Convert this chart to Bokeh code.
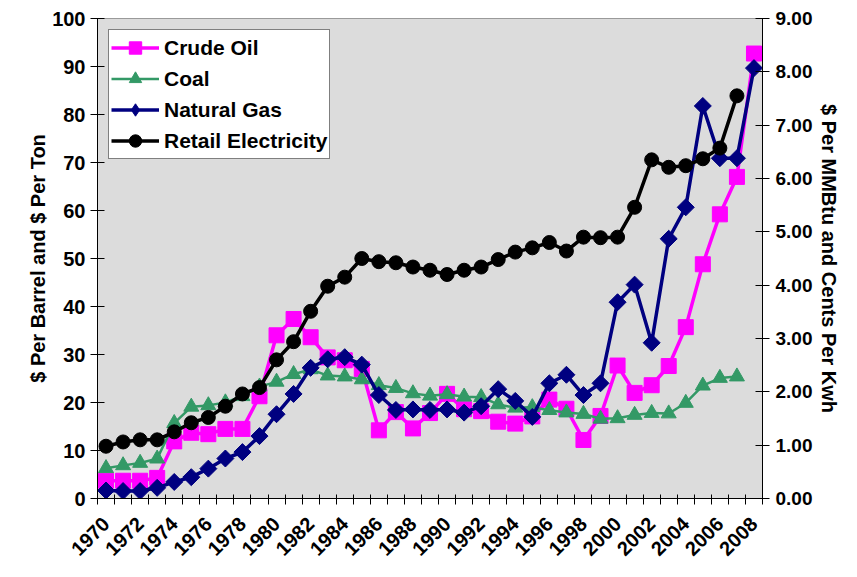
import math
from bokeh.plotting import figure
from bokeh.models import (Range1d, LinearAxis, FixedTicker, NumeralTickFormatter,
                          Legend, LegendItem)
from bokeh.embed import file_html
from bokeh.resources import INLINE

NaN = float("nan")

years = list(range(1970, 2009))

crude_oil = [3.7, 3.7, 3.7, 4.3, 11.9, 13.7, 13.4, 14.5, 14.5, 21.3,
             34.0, 37.4, 33.6, 29.4, 28.8, 27.0, 14.2, 18.0, 14.6, 17.8,
             21.8, 18.6, 18.2, 16.0, 15.6, 17.1, 20.6, 18.7, 12.2, 17.2,
             27.7, 22.0, 23.6, 27.6, 35.7, 48.8, 59.2, 67.0, 92.7]

coal = [6.3, 6.9, 7.4, 8.3, 15.7, 19.1, 19.4, 20.0, 21.3, 23.3,
        24.3, 25.9, 26.9, 25.6, 25.4, 24.8, 23.6, 23.0, 21.9, 21.4,
        21.7, 21.2, 21.1, 19.6, 18.9, 19.0, 18.4, 17.9, 17.6, 16.6,
        16.7, 17.4, 17.8, 17.7, 19.9, 23.5, 25.1, 25.4, NaN]

natural_gas = [0.15, 0.14, 0.14, 0.20, 0.31, 0.40, 0.56, 0.75, 0.87, 1.17,
               1.58, 1.96, 2.45, 2.61, 2.65, 2.51, 1.94, 1.66, 1.67, 1.66,
               1.67, 1.61, 1.73, 2.05, 1.83, 1.53, 2.16, 2.32, 1.94, 2.16,
               3.68, 4.01, 2.92, 4.87, 5.46, 7.36, 6.38, 6.38, 8.07]

retail_electricity = [0.98, 1.06, 1.10, 1.10, 1.25, 1.42, 1.52, 1.73, 1.96, 2.08,
                      2.60, 2.94, 3.51, 3.98, 4.15, 4.50, 4.44, 4.42, 4.34, 4.28,
                      4.20, 4.28, 4.34, 4.48, 4.62, 4.70, 4.80, 4.64, 4.90, 4.89,
                      4.90, 5.46, 6.35, 6.21, 6.24, 6.37, 6.57, 7.55, NaN]

left_ticks = list(range(0, 101, 10))
right_ticks = list(range(0, 10))
label_years = years[::2]

x = list(range(len(years)))

FONT = "Liberation Sans"

p = figure(frame_width=665, frame_height=480,
           min_border_left=97, min_border_right=79,
           min_border_top=18, min_border_bottom=63,
           x_range=Range1d(-0.5, len(years) - 0.5),
           y_range=Range1d(0, 100),
           output_backend="svg", toolbar_location=None)
p.extra_y_ranges = {"right": Range1d(0, 9)}

p.background_fill_color = "#DCDCDC"
p.border_fill_color = "white"
p.outline_line_color = "#9A9A9A"
p.grid.visible = False

# x axis
xa = p.xaxis[0]
xa.ticker = FixedTicker(ticks=[years.index(y) for y in label_years],
                        minor_ticks=[i - 0.5 for i in range(len(years) + 1)])
xa.major_label_overrides = {years.index(y): str(y) for y in label_years}
xa.major_label_orientation = math.pi / 4
xa.major_tick_in = 0
xa.major_tick_out = 0
xa.minor_tick_in = 4
xa.minor_tick_out = 6
xa.minor_tick_line_color = "black"
xa.major_label_standoff = 16

# left axis
ya = p.yaxis[0]
ya.ticker = FixedTicker(ticks=left_ticks)
ya.axis_label = "$ Per Barrel and $ Per Ton"
ya.major_tick_in = 7
ya.major_tick_out = 7
ya.minor_tick_line_color = None
ya.major_label_standoff = 5
ya.axis_label_standoff = 0

ra = LinearAxis(y_range_name="right", ticker=FixedTicker(ticks=right_ticks),
                formatter=NumeralTickFormatter(format="0.00"),
                axis_label="$ Per MMBtu and Cents Per Kwh")
ra.major_tick_in = 7
ra.major_tick_out = 7
ra.minor_tick_line_color = None
ra.major_label_standoff = 6
ra.axis_label_standoff = 3
p.add_layout(ra, "right")

for ax in [xa, ya, ra]:
    ax.major_label_text_font = FONT
    ax.major_label_text_font_style = "bold"
    ax.major_label_text_font_size = "20px"
    ax.major_label_text_color = "black"
    ax.axis_label_text_font = FONT
    ax.axis_label_text_font_style = "bold"
    ax.axis_label_text_font_size = "20px"
    ax.axis_label_text_color = "black"
    ax.axis_line_color = "black"
ra.major_label_text_font_size = "19px"
ya.major_tick_line_color = "black"
ra.major_tick_line_color = "black"
xa.major_tick_line_color = None

# series
c1 = "#FF00FF"
c2 = "#339966"
c3 = "#000080"
c4 = "#000000"

l1 = p.line(x, crude_oil, line_color=c1, line_width=3.5)
s1 = p.scatter(x, crude_oil, marker="square", size=15, fill_color=c1, line_color=c1)

l2 = p.line(x, coal, line_color=c2, line_width=2.5)
s2 = p.scatter(x, coal, marker="triangle", size=15, fill_color=c2, line_color=c2)

l3 = p.line(x, natural_gas, line_color=c3, line_width=3.5, y_range_name="right")
s3 = p.scatter(x, natural_gas, marker="square", angle=math.pi / 4, size=12,
               fill_color=c3, line_color=c3, y_range_name="right")
# legend-only glyph (no data) so the legend shows a diamond
d3 = p.scatter([NaN], [NaN], marker="diamond", size=19,
               fill_color=c3, line_color=c3, y_range_name="right")

l4 = p.line(x, retail_electricity, line_color=c4, line_width=3.5, y_range_name="right")
s4 = p.scatter(x, retail_electricity, marker="circle", size=14,
               fill_color=c4, line_color=c4, y_range_name="right")

legend = Legend(items=[
    LegendItem(label="Crude Oil", renderers=[l1, s1]),
    LegendItem(label="Coal", renderers=[l2, s2]),
    LegendItem(label="Natural Gas", renderers=[l3, d3]),
    LegendItem(label="Retail Electricity", renderers=[l4, s4]),
], location="top_left")
legend.margin = 11
legend.padding = 2
legend.spacing = 0
legend.label_height = 31
legend.glyph_height = 31
legend.glyph_width = 48
legend.label_standoff = 5
legend.label_text_font = FONT
legend.label_text_font_style = "bold"
legend.label_text_font_size = "21px"
legend.label_text_color = "black"
legend.border_line_color = "black"
legend.border_line_width = 1
legend.background_fill_color = "white"
legend.background_fill_alpha = 1.0
p.add_layout(legend)

open("out.html", "w").write(file_html(p, INLINE))
